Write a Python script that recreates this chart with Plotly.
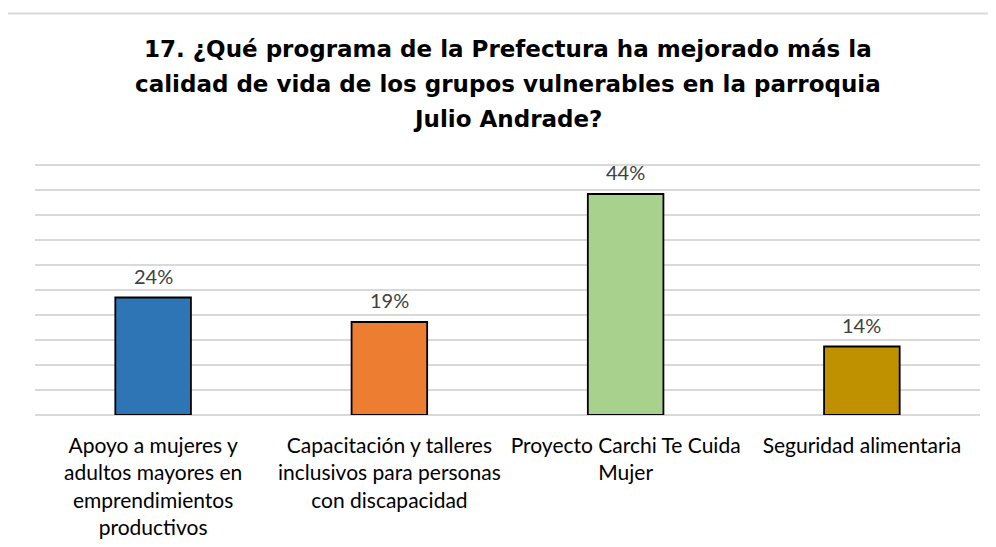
# Survey chart: programa de la Prefectura (pregunta 17)

import plotly.graph_objects as go

# data
categories = [
    "Apoyo a mujeres y<br>adultos mayores en<br>emprendimientos<br>productivos",
    "Capacitación y talleres<br>inclusivos para personas<br>con discapacidad",
    "Proyecto Carchi Te Cuida<br>Mujer",
    "Seguridad alimentaria",
]
values = [23.5, 18.6, 44.2, 13.7]
labels = ["24%", "19%", "44%", "14%"]
colors = ["#2E75B6", "#ED7D31", "#A9D18E", "#BF9000"]
grid_vals = [0, 5, 10, 15, 20, 25, 30, 35, 40, 45, 50]

title_lines = [
    "17. ¿Qué programa de la Prefectura ha mejorado más la",
    "calidad de vida de los grupos vulnerables en la parroquia",
    "Julio Andrade?",
]

# page has an 8px body margin, so work in figure pixels (page px - 8)
W, H = 988, 539
PLOT_LEFT = 27
PLOT_RIGHT = 972
PLOT_TOP = 153
PLOT_BOTTOM = 407
PLOT_H = PLOT_BOTTOM - PLOT_TOP
PLOT_W = PLOT_RIGHT - PLOT_LEFT
Y_MAX = 50.8


def py(ypx):
    return (PLOT_BOTTOM - ypx) / PLOT_H


def px_(xpx):
    return (xpx - PLOT_LEFT) / PLOT_W


fig = go.Figure()

fig.add_trace(go.Bar(
    x=categories,
    y=values,
    marker=dict(color=colors, line=dict(color="#000000", width=1.8)),
    width=0.32,
))

# value labels above bars
for c, v, t in zip(categories, values, labels):
    fig.add_annotation(
        x=c, y=v, text=t, showarrow=False,
        yanchor="bottom", yshift=8,
        font=dict(size=20, color="#404040", family="Lato, Open Sans, sans-serif"),
    )

# title, one annotation per line
for i, line in enumerate(title_lines):
    fig.add_annotation(
        xref="paper", yref="paper", x=0.5, y=py(41 + 35 * i),
        text="<b>" + line + "</b>", showarrow=False,
        xanchor="center", yanchor="middle",
        font=dict(size=23, color="#000000", family="DejaVu Sans, sans-serif"),
    )

# chart frame (light gray border, cropped at right and bottom)
fig.add_shape(type="line", xref="paper", yref="paper",
              x0=px_(-1), x1=px_(W + 10), y0=py(5.5), y1=py(5.5),
              line=dict(color="#D9D9D9", width=2))
fig.add_shape(type="line", xref="paper", yref="paper",
              x0=px_(-1), x1=px_(-1), y0=py(5.5), y1=py(H + 10),
              line=dict(color="#D9D9D9", width=2))

fig.update_layout(
    width=W,
    height=H,
    margin=dict(l=PLOT_LEFT, r=W - PLOT_RIGHT, t=PLOT_TOP, b=H - PLOT_BOTTOM,
                autoexpand=False),
    paper_bgcolor="white",
    plot_bgcolor="white",
    showlegend=False,
    xaxis=dict(
        showline=False,
        ticks="",
        automargin=False,
        tickfont=dict(size=21, color="#000000", family="Lato, Open Sans, sans-serif"),
        tickangle=0,
        ticklabelstandoff=16,
    ),
    yaxis=dict(
        range=[0, Y_MAX],
        tickvals=grid_vals,
        showticklabels=False,
        automargin=False,
        showgrid=True,
        gridcolor="#D9D9D9",
        gridwidth=2,
        zeroline=True,
        zerolinecolor="#D9D9D9",
        zerolinewidth=2,
    ),
)

fig.write_html("out.html")
